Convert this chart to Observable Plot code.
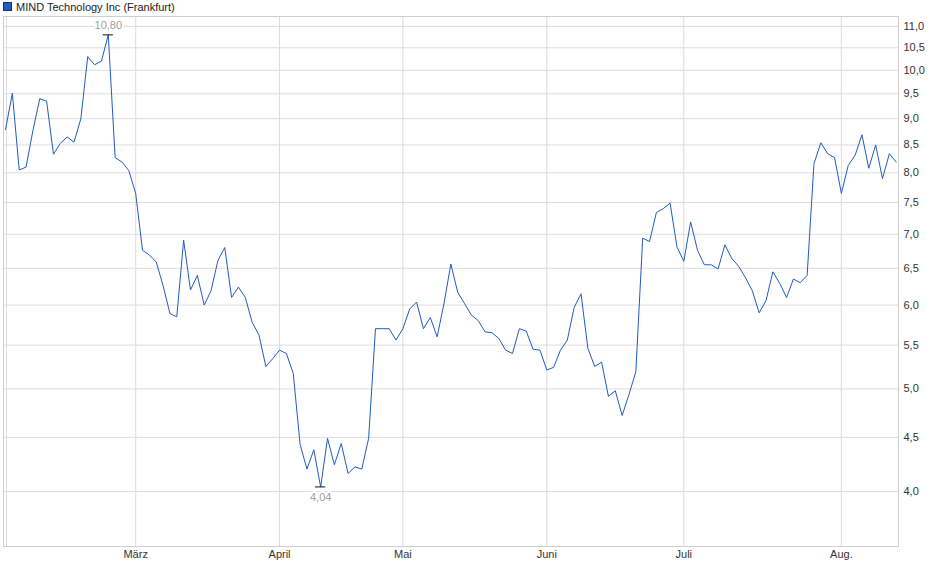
<!DOCTYPE html>
<html>
<head>
<meta charset="utf-8">
<script src="https://cdn.jsdelivr.net/npm/d3@7"></script>
<script src="https://cdn.jsdelivr.net/npm/@observablehq/plot@0.6"></script>
<style>
  body { margin: 0; background: #fff; font-family: "Liberation Sans", Arial, sans-serif; }
  #wrap { position: relative; width: 940px; height: 579px; }
  #legend { height: 14px; font-size: 11px; color: #222; line-height: 14px; white-space: nowrap; }
  #legend .sw { display: inline-block; width: 7px; height: 7px; background: #1f5cc0; border: 1px solid #1a2f6a; margin: 0 4px 0 3px; vertical-align: -0px; }
</style>
</head>
<body>
<div id="wrap">
  <div id="legend"><span class="sw"></span>MIND Technology Inc (Frankfurt)</div>
  <div id="chart"></div>
</div>
<script>
const seriesName = "MIND Technology Inc (Frankfurt)";
const prices = [
  8.79, 9.51, 8.05, 8.10, 8.77, 9.40, 9.35, 8.33, 8.53, 8.65,
  8.55, 9.00, 10.30, 10.12, 10.20, 10.80, 8.27, 8.19, 8.04, 7.65,
  6.76, 6.69, 6.59, 6.26, 5.89, 5.85, 6.91, 6.20, 6.40, 6.00,
  6.19, 6.61, 6.80, 6.10, 6.24, 6.10, 5.78, 5.62, 5.25, 5.34,
  5.44, 5.40, 5.17, 4.43, 4.20, 4.38, 4.04, 4.49, 4.24, 4.44,
  4.16, 4.22, 4.20, 4.49, 5.70, 5.70, 5.70, 5.56, 5.70, 5.95,
  6.04, 5.70, 5.84, 5.60, 6.02, 6.56, 6.17, 6.02, 5.87, 5.80,
  5.66, 5.65, 5.58, 5.44, 5.40, 5.70, 5.67, 5.45, 5.44, 5.21,
  5.24, 5.44, 5.56, 5.97, 6.15, 5.46, 5.25, 5.30, 4.92, 4.98,
  4.72, 4.94, 5.19, 6.94, 6.89, 7.34, 7.40, 7.49, 6.81, 6.60,
  7.19, 6.76, 6.55, 6.55, 6.49, 6.84, 6.64, 6.53, 6.37, 6.19,
  5.90, 6.06, 6.45, 6.29, 6.10, 6.35, 6.30, 6.40, 8.16, 8.54,
  8.34, 8.27, 7.65, 8.13, 8.31, 8.69, 8.08, 8.50, 7.90, 8.34,
  8.19
];
const monthLabels = ["März", "April", "Mai", "Juni", "Juli", "Aug."];
const monthIndex = [19, 40, 58, 79, 99, 122];
const yTicks = [4.0, 4.5, 5.0, 5.5, 6.0, 6.5, 7.0, 7.5, 8.0, 8.5, 9.0, 9.5, 10.0, 10.5, 11.0];

const data = prices.map((v, i) => ({i, v}));
const fmt = d => d.toFixed(1).replace(".", ",");
const fmt2 = d => d.toFixed(2).replace(".", ",");
const iMax = d3.maxIndex(prices), iMin = d3.minIndex(prices);
const hi = [{i: iMax, v: prices[iMax], t: fmt2(prices[iMax])}];
const lo = [{i: iMin, v: prices[iMin], t: fmt2(prices[iMin])}];
const grid = "#dcdcdc";

const chart = Plot.plot({
  width: 940,
  height: 565,
  marginLeft: 3,
  marginRight: 42,
  marginTop: 2,
  marginBottom: 33,
  style: {fontFamily: '"Liberation Sans", Arial, sans-serif', fontSize: "11px", background: "white", color: "#333"},
  x: {domain: [-0.292, 130.336], axis: null, label: null},
  y: {type: "log", domain: [3.549, 11.24], axis: null, label: null},
  marks: [
    Plot.ruleY(yTicks, {stroke: grid, strokeWidth: 1}),
    Plot.ruleX(monthIndex, {stroke: grid, strokeWidth: 1}),
    Plot.ruleX([0.146], {stroke: grid, strokeWidth: 1}),
    Plot.frame({stroke: "#cfcfcf"}),
    Plot.line(data, {x: "i", y: "v", stroke: "#1f5cc0", strokeWidth: 1}),
    Plot.ruleY(hi, {y: "v", x1: d => d.i - 0.75, x2: d => d.i + 0.75, stroke: "#111", strokeWidth: 1}),
    Plot.ruleY(lo, {y: "v", x1: d => d.i - 0.75, x2: d => d.i + 0.75, stroke: "#111", strokeWidth: 1}),
    Plot.text(hi, {x: "i", y: "v", text: "t", dy: -9, fill: "#a3a09a", stroke: "white", strokeWidth: 4, paintOrder: "stroke", fontSize: 11}),
    Plot.text(lo, {x: "i", y: "v", text: "t", dy: 11, fill: "#a3a09a", stroke: "white", strokeWidth: 4, paintOrder: "stroke", fontSize: 11}),
    Plot.axisY(yTicks, {anchor: "right", label: null, tickSize: 0, tickPadding: 5, tickFormat: fmt, fill: "#333", fontSize: 11}),
    Plot.axisX(monthIndex, {anchor: "bottom", label: null, tickSize: 0, tickPadding: 4, tickFormat: d => monthLabels[monthIndex.indexOf(d)], fill: "#333", fontSize: 11})
  ]
});
document.getElementById("chart").appendChild(chart);
</script>
</body>
</html>
